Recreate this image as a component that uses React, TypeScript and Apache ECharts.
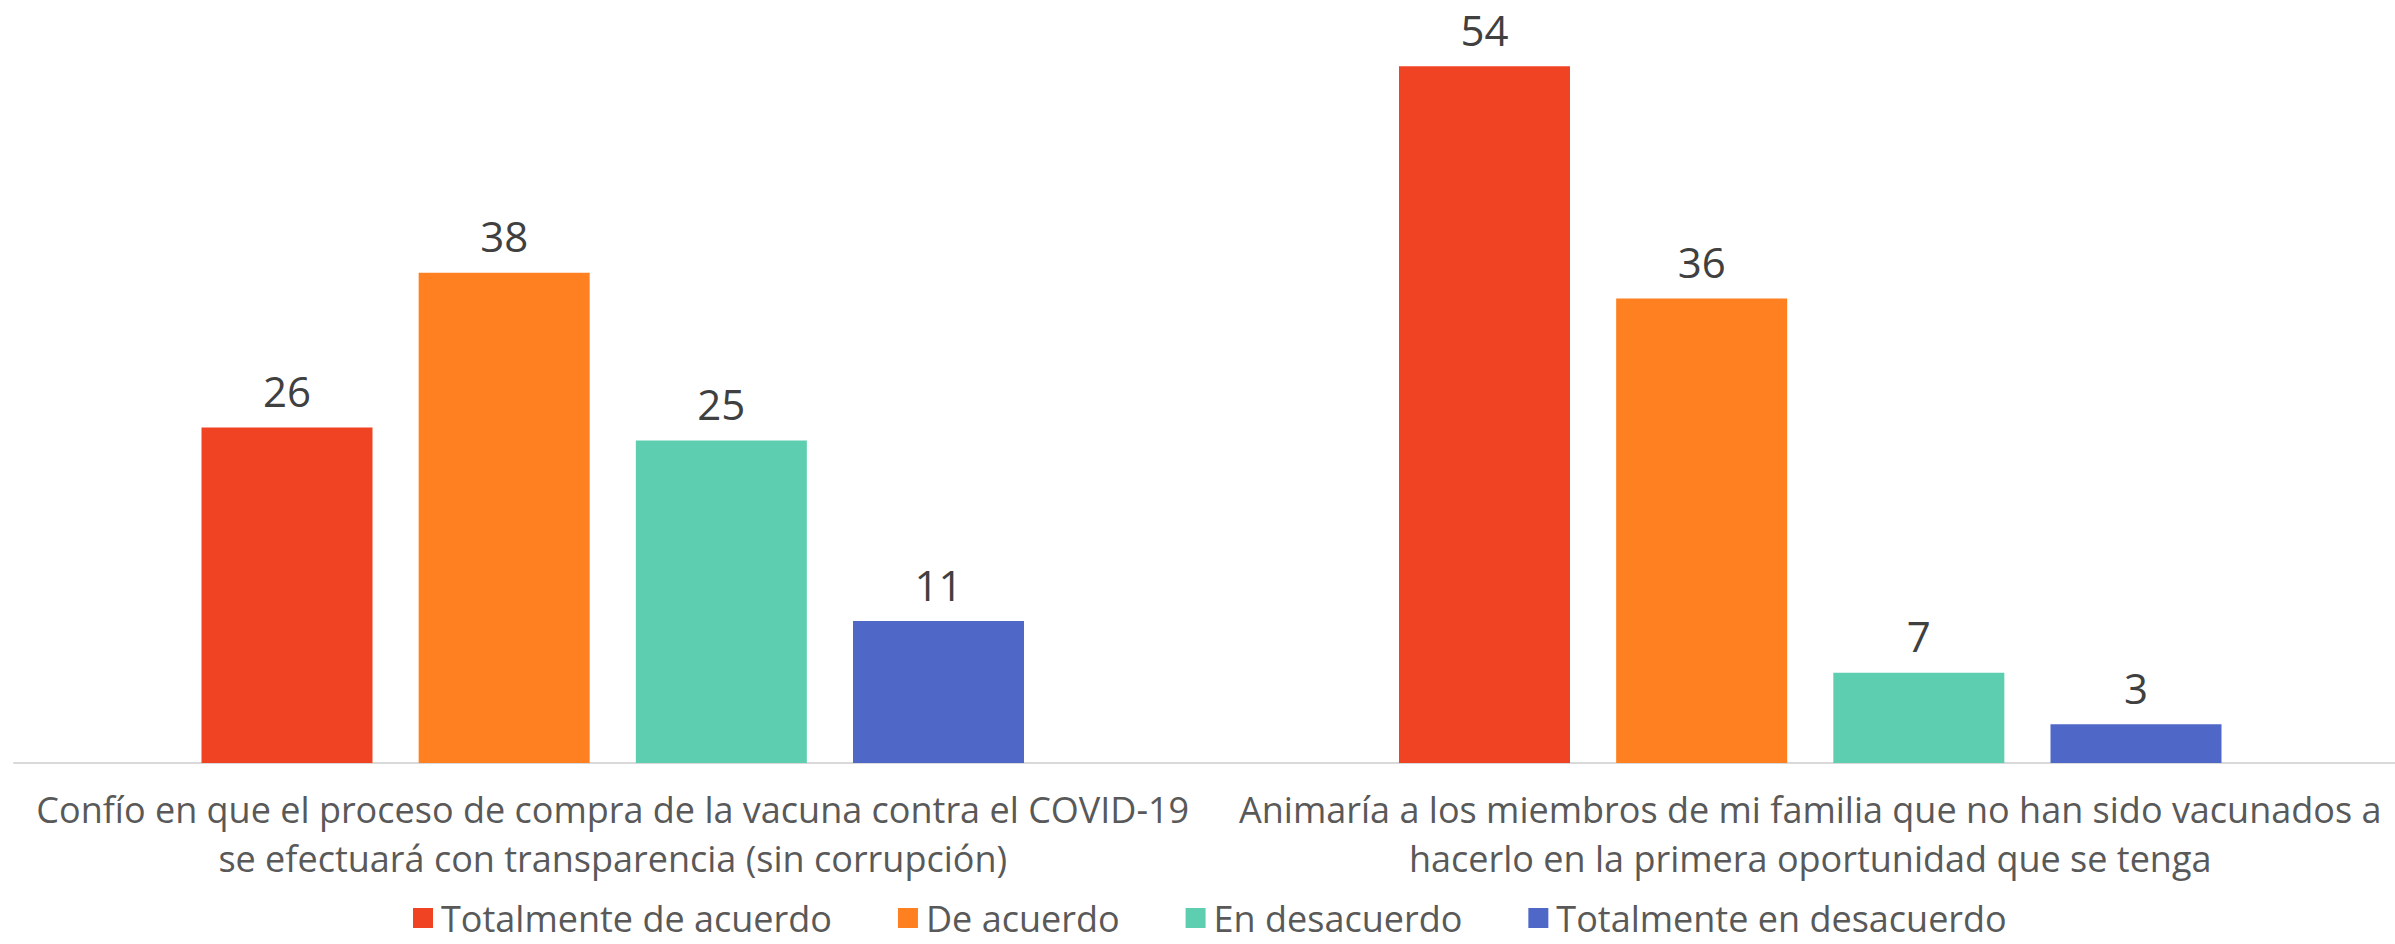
import React, { useEffect, useRef } from "react";
import * as echarts from "echarts";

const categories = [
  "Confío en que el proceso de compra de la vacuna contra el COVID-19\nse efectuará con transparencia (sin corrupción)",
  "Animaría a los miembros de mi familia que no han sido vacunados a\nhacerlo en la primera oportunidad que se tenga",
];
const seriesNames = [
  "Totalmente de acuerdo",
  "De acuerdo",
  "En desacuerdo",
  "Totalmente en desacuerdo",
];
const totalmenteDeAcuerdo = [26, 54];
const deAcuerdo = [38, 36];
const enDesacuerdo = [25, 7];
const totalmenteEnDesacuerdo = [11, 3];
const colors = ["#F04324", "#FE8020", "#5ECEB1", "#4F68C7"];

const FONT = "'Open Sans', sans-serif";

export default function App() {
  const ref = useRef<HTMLDivElement>(null);
  useEffect(() => {
    if (!ref.current) return;
    const chart = echarts.init(ref.current, undefined, { renderer: "svg" });
    const values = [totalmenteDeAcuerdo, deAcuerdo, enDesacuerdo, totalmenteEnDesacuerdo];
    chart.setOption({
      animation: false,
      backgroundColor: "#ffffff",
      textStyle: { fontFamily: FONT },
      grid: { left: 14, right: 0, top: 40.5, bottom: 181, containLabel: false },
      legend: {
        left: 408,
        top: 893,
        icon: "rect",
        itemWidth: 20,
        itemHeight: 20,
        itemGap: 66,
        textStyle: {
          fontFamily: FONT,
          fontSize: 36,
          lineHeight: 40,
          color: "#595959",
          padding: [0, 0, 0, 3],
        },
        data: seriesNames,
      },
      xAxis: {
        type: "category",
        data: categories,
        axisLine: { show: true, lineStyle: { color: "#D9D9D9", width: 2 } },
        axisTick: { show: false },
        axisLabel: {
          interval: 0,
          margin: 22,
          fontFamily: FONT,
          fontSize: 36,
          lineHeight: 49,
          color: "#595959",
        },
      },
      yAxis: {
        type: "value",
        min: 0,
        max: 56,
        show: false,
        splitLine: { show: false },
      },
      series: seriesNames.map((name, i) => ({
        name,
        type: "bar",
        data: values[i],
        barWidth: 171,
        barGap: "27%",
        itemStyle: { color: colors[i] },
        label: {
          show: true,
          position: "top",
          distance: 16,
          fontFamily: FONT,
          fontSize: 42,
          color: "#404040",
        },
      })),
    });
    return () => chart.dispose();
  }, []);
  return (
    <div
      style={{
        position: "fixed",
        left: 0,
        top: 0,
        width: 2395,
        height: 944,
        overflow: "hidden",
        background: "#ffffff",
      }}
    >
      <div ref={ref} style={{ width: 2409, height: 944 }} />
    </div>
  );
}
